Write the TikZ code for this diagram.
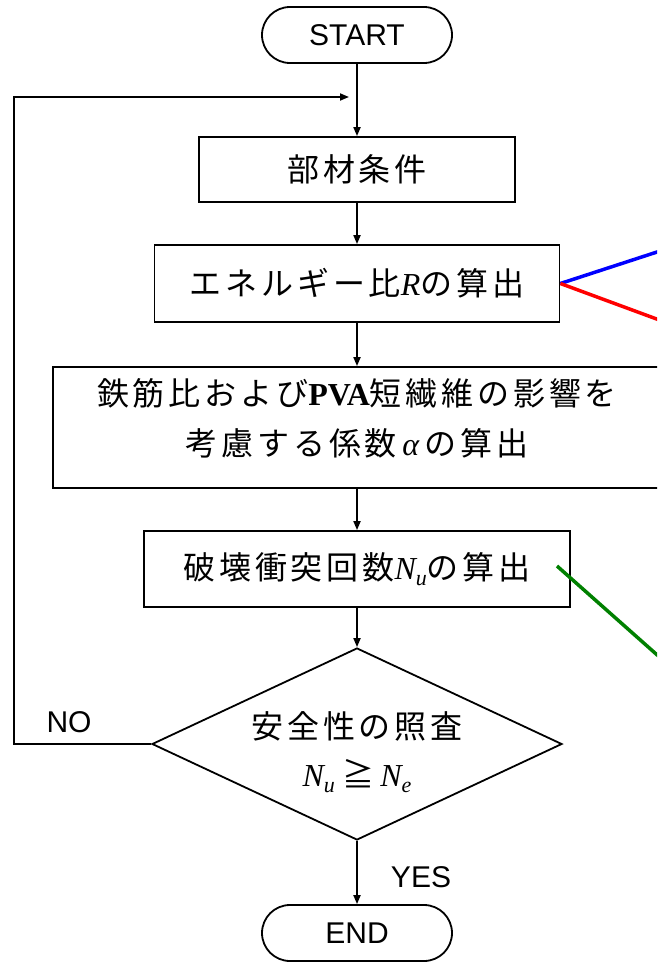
\documentclass[tikz,border=0pt]{standalone}
\usepackage{fontspec}
\setmainfont{Liberation Serif}
\setsansfont{Liberation Sans}
\newfontfamily\jp[LetterSpace=12]{Noto Sans CJK JP}
\usetikzlibrary{arrows.meta,shapes.geometric}
\newcommand\mvar[1]{{\rmfamily\itshape #1}}
\newcommand\subN[1]{{\rmfamily\itshape N\raisebox{-6pt}{\fontsize{22}{22}\selectfont #1}}}
\begin{document}
\begin{tikzpicture}[x=1pt,y=-1pt,
  line width=1.8pt,
  box/.style={draw, rectangle, inner sep=0pt, align=center,
    font=\fontsize{32}{50}\selectfont},
  txt/.style={inner sep=0pt, align=center, font=\fontsize{32}{50}\selectfont},
  term/.style={draw, rectangle, rounded corners=28pt, minimum width=190pt,
    minimum height=56pt, inner sep=0pt, font=\sffamily\fontsize{30}{30}\selectfont},
  lab/.style={inner sep=0pt, font=\sffamily\fontsize{30}{30}\selectfont},
  arr/.style={-{Triangle[length=9pt,width=7pt]}},
  note/.style={line width=3.5pt}
]
\useasboundingbox (0,0) rectangle (657,963);
\clip (0,0) rectangle (657,963);

\node[term] (start) at (357,35) {START};
\node[box, minimum width=316pt, minimum height=65pt] (b1) at (357,169.5) {\jp 部材条件};
\node[box, minimum width=405pt, minimum height=77pt] (b2) at (357,283.5)
  {{\jp エネルギー比}\mvar{R}{\jp の算出}};
\node[box, minimum width=608pt, minimum height=121pt] (b3) at (357,427.5) {};
\node[txt] (b3t) at (357,418)
  {{\jp 鉄筋比および}{\bfseries PVA}{\jp 短繊維の影響を}\\
   {\jp 考慮する係数}\,\mvar{α}\,{\jp の算出}};
\node[box, minimum width=426pt, minimum height=76pt] (b4) at (357,569)
  {{\jp 破壊衝突回数}\subN{u}{\jp の算出}};
\node[draw, diamond, minimum width=410pt, minimum height=192pt, inner sep=0pt] (d) at (357,744) {};
\node[txt, font=\fontsize{32}{48}\selectfont] (dt) at (357,752)
  {{\jp 安全性の照査}\\ \subN{u}\ {\jp ≧}\,\subN{e}};
\node[term] (end) at (357,933) {END};

\node[lab] (yes) at (421,877) {YES};
\node[lab] (no) at (69,722) {NO};

\coordinate (fbL) at (14,744);
\coordinate (fbT) at (349,97);

\draw[arr] (start) -- (b1);
\draw[arr] (b1) -- (b2);
\draw[arr] (b2) -- (b3);
\draw[arr] (b3) -- (b4);
\draw[arr] (b4) -- (d);
\draw[arr] (d) -- (end);
\draw[arr] (d.west) -- (fbL) |- (fbT);

\coordinate (blueEnd) at (700,238);
\coordinate (redEnd) at (700,335);
\coordinate (gStart) at (557,566);
\coordinate (gEnd) at (700,693);
\draw[note, blue] (b2.east) -- (blueEnd);
\draw[note, red] (b2.east) -- (redEnd);
\draw[note, green!50!black] (gStart) -- (gEnd);
\end{tikzpicture}
\end{document}
